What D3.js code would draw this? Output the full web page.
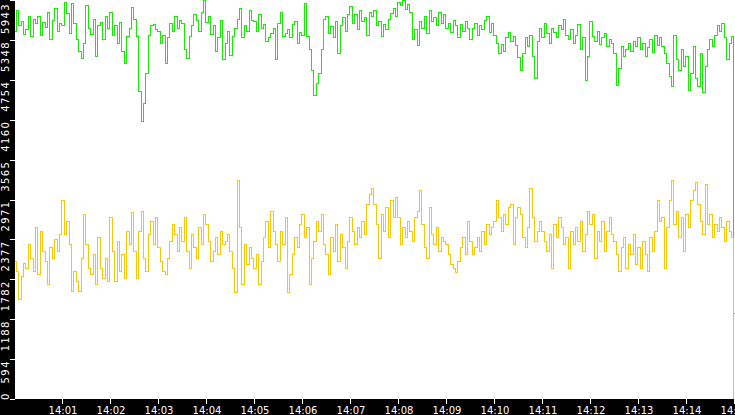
<!DOCTYPE html>
<html>
<head>
<meta charset="utf-8">
<script src="https://cdn.jsdelivr.net/npm/d3@7"></script>
<style>
    html, body { margin: 0; padding: 0; background: #fff; }
    #chart { width: 735px; height: 415px; }
    .tick-label { font-family: "DejaVu Sans", sans-serif; font-size: 10px; fill: #fff; }
</style>
</head>
<body>
<div id="chart"></div>
<script>
// samples every 3 seconds starting 14:00:00
const startTime = new Date(2024, 0, 1, 14, 0, 0);
const stepSeconds = 3;
const spanMinutes = 15;

const yMax = 5943;
const yTickLabels = ["0", "594", "1188", "1782", "2377", "2971", "3565", "4160", "4754", "5348", "5943"];

const greenValues = [
    5480, 5780, 5560, 5620, 5430, 5510, 5690, 5400, 5650, 5590,
    5700, 5420, 5610, 5530, 5760, 5350, 5640, 5820, 5470, 5600,
    5560, 5900, 5740, 5450, 5890, 5600, 5350, 5180, 5070, 5300,
    5860, 5520, 5430, 5650, 5100, 5560, 5610, 5350, 5700, 5520,
    5760, 5420, 5560, 5300, 5610, 5180, 5000, 5400, 5520, 5830,
    5650, 5400, 4580, 4140, 4400, 4850, 5420, 5560, 5580, 5500,
    5480, 5300, 5420, 5000, 5380, 5600, 5480, 5700, 5520, 5640,
    5590, 5200, 5070, 5400, 5560, 5720, 5640, 5480, 5760, 5930,
    5610, 5700, 5430, 5560, 5180, 5380, 5640, 5050, 5300, 5480,
    5120, 5400, 5520, 5650, 5810, 5380, 5560, 5470, 5780, 5640,
    5620, 5480, 5720, 5520, 5580, 5330, 5380, 5450, 5520, 5050,
    5600, 5750, 5400, 5440, 5500, 5380, 5580, 5620, 5300, 5460,
    5420, 5890, 5400, 5200, 4900, 4520, 4700, 4850, 5200, 5650,
    5700, 5450, 5550, 5380, 5620, 5150, 5560, 5680, 5480, 5720,
    5850, 5600, 5720, 5500, 5780, 5620, 5680, 5420, 5760, 5700,
    5780, 5560, 5620, 5400, 5580, 5510, 5660, 5740, 5820, 5700,
    5900, 5860, 5930, 5800, 5870, 5760, 5350, 5500, 5260, 5620,
    5520, 5700, 5440, 5780, 5620, 5680, 5560, 5750, 5600, 5720,
    5520, 5600, 5460, 5640, 5560, 5380, 5580, 5480, 5620, 5520,
    5360, 5520, 5600, 5420, 5560, 5500, 5640, 5700, 5460, 5600,
    5420, 5300, 5140, 5280, 5180, 5380, 5460, 5320, 5400, 5260,
    5080, 4890, 5150, 5380, 5250, 5420, 5100, 4780, 5320, 5520,
    5380, 5600, 5450, 5300, 5520, 5460, 5390, 5560, 5500, 5650,
    5420, 5350, 5500, 5300, 5420, 5580, 5200, 5380, 4740, 5100,
    5620, 5400, 5320, 5480, 5280, 5380, 5450, 5250, 5360, 5300,
    5150, 4670, 4920, 5250, 5100, 5200, 5300, 5180, 5320, 5250,
    5380, 5200, 5300, 5100, 5240, 5350, 5160, 5420, 5260, 5380,
    5250, 5150, 5000, 4800, 4650, 5420, 5050, 4900, 5200, 4950,
    5100, 4600, 4850, 5250, 4780, 4650, 5150, 4560, 4950, 5200,
    5350, 5250, 5420, 5560, 5480, 5600, 5380, 5050, 5300, 5400,
    1280
];

const yellowValues = [
    2050, 1900, 1480, 1820, 2020, 1950, 2300, 2100, 1900, 2550,
    1850, 2500, 2200, 2050, 1700, 2250, 2100, 2380, 2200, 2450,
    2960, 2450, 2650, 2300, 1600, 1900, 1750, 1600, 2100, 2750,
    2300, 1950, 1850, 2150, 1700, 2400, 1950, 1800, 2100, 1750,
    2700, 2200, 1750, 2350, 1900, 2150, 1800, 2500, 2300, 2780,
    2200, 1800, 2500, 2800, 2100, 1900, 2450, 2650, 2300, 2700,
    2250, 2050, 1900, 1850, 2100, 2350, 2600, 2450, 2200, 2550,
    2350, 2700, 2200, 1950, 2450, 2250, 2100, 2550, 2300, 2750,
    2600, 2350, 2050, 2200, 2400, 2150, 2500, 2300, 2350, 2450,
    2200, 1950, 1580, 3260, 2550, 1700, 2300, 2000, 2250, 2100,
    1950, 2150, 1700, 2050, 2400, 2650, 2250, 2800, 2500, 2300,
    2050, 2500, 2300, 2700, 1580, 1850, 2150, 2400, 2250, 2600,
    2750, 2400, 2550, 1700, 2100, 2350, 2650, 2500, 2750, 2300,
    2150, 1850, 2400, 2200, 2600, 2050, 2450, 2250, 1950, 2350,
    2700, 2500, 2300, 2550, 2400, 2650, 2450, 2900, 3050, 3130,
    2900, 2600, 2100, 2750, 2500, 2850, 2400, 2950, 2700, 3000,
    2700, 2300, 2550, 2400, 2650, 2500, 2350, 2700, 2800, 3100,
    2600, 2250, 2100, 2850, 2450, 2300, 2550, 2200, 2400, 2350,
    2300, 2150, 2000, 1950, 1880, 2050, 2250, 2400, 2150, 2650,
    2350, 2150, 2250, 2400, 2200, 2500, 2300, 2600, 2450, 2550,
    2650, 2950, 2700, 2500, 2750, 2600, 2850, 2900, 2300, 2700,
    2850, 2750, 2400, 2250, 2550, 3130, 2700, 2350, 2500, 2650,
    2500, 2350, 2200, 2450, 1950, 2600, 2400, 2700, 2550, 2300,
    2400, 1950, 2500, 2300, 2550, 2350, 2650, 2200, 2450, 2800,
    2600, 2750, 2100, 2500, 2350, 2650, 2200, 2500, 2700, 2450,
    2350, 2150, 1900, 2250, 2400, 1950, 2300, 2150, 2450, 2000,
    2250, 1950, 2350, 2150, 1900, 2400, 2200, 2500, 2950, 2650,
    2700, 1950, 2550, 2950, 3260, 2600, 2800, 2400, 2700, 2200,
    2750, 2550, 2950, 3100, 3220, 2900, 2650, 2450, 3200, 2600,
    2750, 2400, 2600, 2500, 2700, 2550, 2350, 2650, 2500, 2400,
    0
];

class TrafficChart {
    constructor(_parentElement, _series) {
        this.parentElement = _parentElement;
        this.series = _series;
        this.initVis();
    }

    initVis() {
        let vis = this;
        vis.margin = { top: 0, right: 0, bottom: 16, left: 15 };
        vis.totalWidth = 735;
        vis.totalHeight = 415;
        vis.width = vis.totalWidth - vis.margin.left - vis.margin.right;
        vis.height = vis.totalHeight - vis.margin.top - vis.margin.bottom;

        vis.svg = d3.select("#" + vis.parentElement).append("svg")
            .attr("width", vis.totalWidth)
            .attr("height", vis.totalHeight)
            .style("display", "block");

        // black frame strips (left + bottom)
        vis.svg.append("rect")
            .attr("x", 0).attr("y", 0)
            .attr("width", vis.margin.left).attr("height", vis.totalHeight)
            .attr("fill", "#000");
        vis.svg.append("rect")
            .attr("x", 0).attr("y", vis.height)
            .attr("width", vis.totalWidth).attr("height", vis.margin.bottom)
            .attr("fill", "#000");

        vis.x = d3.scaleTime()
            .domain([startTime, d3.timeMinute.offset(startTime, spanMinutes)])
            .range([vis.margin.left, vis.totalWidth]);

        vis.y = d3.scaleLinear()
            .domain([0, yMax])
            .range([vis.height, 0]);

        vis.svg.append("clipPath")
            .attr("id", "plot-clip")
            .append("rect")
            .attr("x", vis.margin.left).attr("y", 0)
            .attr("width", vis.width).attr("height", vis.height);

        vis.plot = vis.svg.append("g").attr("clip-path", "url(#plot-clip)");

        vis.updateVis();
    }

    updateVis() {
        let vis = this;

        // step curve gives the column-by-column look of the original
        let line = d3.line()
            .x((d, i) => vis.x(new Date(startTime.getTime() + i * stepSeconds * 1000)))
            .y(d => vis.y(d))
            .curve(d3.curveStep);

        vis.plot.selectAll(".series")
            .data(vis.series)
            .enter()
            .append("path")
            .attr("class", "series")
            .attr("d", d => line(d.values))
            .attr("fill", "none")
            .attr("stroke", d => d.color)
            .attr("stroke-width", 1)
            .style("shape-rendering", "crispEdges");

        // x axis: ticks on every minute after the start
        let xTicks = d3.timeMinute.range(d3.timeMinute.offset(startTime, 1), d3.timeMinute.offset(startTime, spanMinutes + 1));
        let fmt = d3.timeFormat("%H:%M");

        let xg = vis.svg.append("g").attr("class", "x-axis");
        xg.selectAll("line")
            .data(xTicks)
            .enter()
            .append("line")
            .attr("x1", d => Math.round(vis.x(d)) - 0.5)
            .attr("x2", d => Math.round(vis.x(d)) - 0.5)
            .attr("y1", vis.height)
            .attr("y2", vis.height + 5)
            .attr("stroke", "#fff");
        xg.selectAll("text")
            .data(xTicks)
            .enter()
            .append("text")
            .attr("class", "tick-label")
            .attr("x", d => vis.x(d))
            .attr("y", vis.totalHeight - 1)
            .attr("text-anchor", "middle")
            .text(d => fmt(d));

        // y axis: ten even steps up to the max
        let yg = vis.svg.append("g").attr("class", "y-axis");
        let yTicks = yTickLabels.map((label, i) => ({ label: label, value: yMax * i / 10 }));

        yg.selectAll("line")
            .data(yTicks)
            .enter()
            .append("line")
            .attr("x1", 10)
            .attr("x2", vis.margin.left)
            .attr("y1", d => Math.round(vis.y(d.value)) + 0.5)
            .attr("y2", d => Math.round(vis.y(d.value)) + 0.5)
            .attr("stroke", "#fff");

        yg.selectAll("text")
            .data(yTicks)
            .enter()
            .append("text")
            .attr("class", "tick-label")
            .style("letter-spacing", "1.4px")
            .text(d => d.label)
            .each(function (d) {
                let len = this.getComputedTextLength();
                let pos = vis.y(d.value) + 1 + len;   // label sits just below its tick
                pos = Math.max(pos, len + 3);
                pos = Math.min(pos, vis.height + 1);
                d3.select(this).attr("transform", `translate(9, ${pos}) rotate(-90)`);
            });
    }
}

new TrafficChart("chart", [
    { name: "green", values: greenValues, color: "#11ee00" },
    { name: "yellow", values: yellowValues, color: "#ffc400" }
]);
</script>
</body>
</html>
